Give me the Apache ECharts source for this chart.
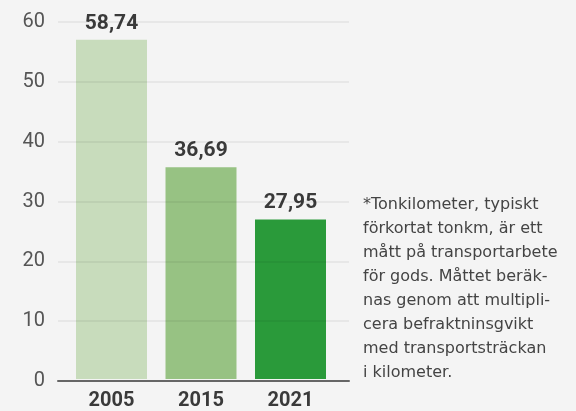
<!DOCTYPE html>
<html>
<head>
<meta charset="utf-8">
<script src="https://cdn.jsdelivr.net/npm/echarts@6/dist/echarts.min.js"></script>
<style>
  html, body { margin: 0; padding: 0; background: #f4f4f4; }
  #chart { width: 576px; height: 411px; }
</style>
</head>
<body>
<div id="chart"></div>
<script>
// år (kategorier)
const years = ['2005', '2015', '2021']
// stapelhöjder som de är ritade i bilden
const barValues = [57.0, 35.6, 26.8]
// etiketter ovanför staplarna
const barLabels = ['58,74', '36,69', '27,95']
// färger per stapel
const barColors = ['#c8dcbc', '#97c283', '#2a9a3a']
// y-axelns skala
const yMin = 0, yMax = 60, yStep = 10
// fotnot
const noteLines = [
  '*Tonkilometer, typiskt',
  'förkortat tonkm, är ett',
  'mått på transportarbete',
  'för gods. Måttet beräk-',
  'nas genom att multipli-',
  'cera befraktninsgvikt',
  'med transportsträckan',
  'i kilometer.'
]

const myChart = echarts.init(document.getElementById('chart'))

const option = {
  backgroundColor: '#f4f4f4',
  animation: false,
  textStyle: { fontFamily: 'Roboto' },

  grid: [
    // axlar + stödlinjer
    { left: 58, right: 227, top: 22, bottom: 30 },
    // staplar
    { left: 66.75, right: 240.75, top: 22, bottom: 30 }
  ],

  xAxis: [
    {
      gridIndex: 0,
      type: 'category',
      data: years,
      z: 5,
      axisLabel: { show: false },
      axisTick: { show: false },
      axisLine: { lineStyle: { color: '#666', width: 2 } }
    },
    {
      gridIndex: 1,
      type: 'category',
      data: years,
      axisTick: { show: false },
      axisLine: { show: false },
      axisLabel: {
        margin: 12,
        color: '#3a3a3a',
        fontSize: 20,
        fontWeight: 'bold',
        fontFamily: 'Roboto'
      }
    }
  ],

  yAxis: [
    {
      gridIndex: 0,
      type: 'value',
      min: yMin,
      max: yMax,
      interval: yStep,
      z: 5,
      axisLine: { show: false },
      axisTick: { show: false },
      axisLabel: {
        margin: 13,
        color: '#555',
        fontSize: 20,
        fontFamily: 'Roboto',
        padding: [0, 0, 6, 0]
      },
      splitLine: { lineStyle: { color: 'rgba(0,0,0,0.07)', width: 1.5 } }
    },
    {
      gridIndex: 1,
      type: 'value',
      min: yMin,
      max: yMax,
      show: false
    }
  ],

  series: [
    {
      type: 'bar',
      xAxisIndex: 1,
      yAxisIndex: 1,
      barWidth: 71,
      data: barValues.map((v, i) => ({
        value: v,
        itemStyle: { color: barColors[i] }
      })),
      label: {
        show: true,
        position: 'top',
        distance: 6,
        color: '#3a3a3a',
        fontSize: 21,
        fontWeight: 'bold',
        fontFamily: 'Roboto',
        formatter: ({ dataIndex }) => barLabels[dataIndex]
      }
    }
  ],

  graphic: [
    {
      type: 'text',
      left: 363,
      top: 193,
      style: {
        text: noteLines.join('\n'),
        fill: '#444',
        fontSize: 16,
        lineHeight: 24,
        fontFamily: 'DejaVu Sans'
      }
    }
  ]
}

myChart.setOption(option)
</script>
</body>
</html>
